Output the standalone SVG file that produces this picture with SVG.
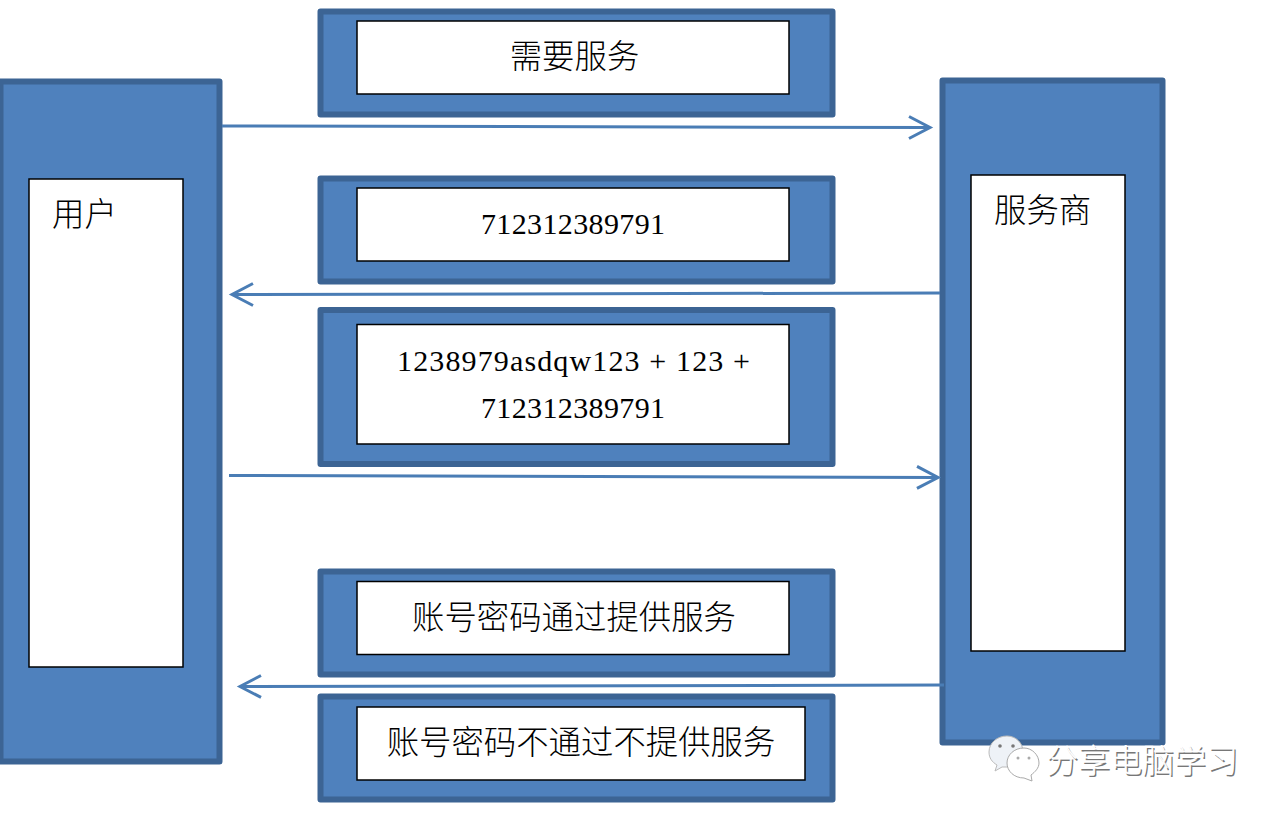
<svg xmlns="http://www.w3.org/2000/svg" width="1280" height="817" viewBox="0 0 1280 817">
<style>
.outer{fill:#4f81bd;stroke:#3c6494;stroke-width:6;stroke-linejoin:round}
.inner{fill:#fff;stroke:#000;stroke-width:1.5}
.cjk{font-family:"Noto Sans CJK SC","Noto Sans CJK JP",sans-serif;font-size:32.400px;font-weight:300;fill:#000}
.num{font-family:"Liberation Serif",serif;font-size:30px;fill:#000}
.conn{fill:none;stroke:#4a7db5;stroke-width:3}
.wm{font-family:"Noto Sans CJK SC",sans-serif;font-size:32px;font-weight:300}
</style>
<defs>
<marker id="open" markerUnits="userSpaceOnUse" markerWidth="28" markerHeight="30" refX="23" refY="15" orient="auto">
<path d="M2 4 L23 15 L2 26" fill="none" stroke="#4a7db5" stroke-width="3"/>
</marker>
</defs>
<g id="user"><rect class="outer" x="0.500" y="81.500" width="219" height="680"/><rect class="inner" x="29" y="179" width="154" height="488"/><text class="cjk" x="52" y="226">用户</text></g>
<g id="provider"><rect class="outer" x="942.500" y="80.500" width="220" height="662"/><rect class="inner" x="971" y="175" width="154" height="476"/><text class="cjk" x="994" y="222">服务商</text></g>
<g id="need"><rect class="outer" x="320.500" y="11.500" width="512" height="103"/><rect class="inner" x="357" y="21" width="432" height="73"/><text class="cjk" x="574.500" y="68" text-anchor="middle">需要服务</text></g>
<g id="challenge"><rect class="outer" x="320.500" y="178.500" width="512" height="103"/><rect class="inner" x="357" y="188" width="432" height="73"/><text class="num" x="573" y="234" text-anchor="middle" textLength="184">712312389791</text></g>
<g id="response"><rect class="outer" x="320.500" y="310" width="512" height="154"/><rect class="inner" x="357" y="324.500" width="432" height="119.500"/><text class="num" x="397" y="371" textLength="353" xml:space="preserve">1238979asdqw123 + 123 +</text><text class="num" x="573" y="418" text-anchor="middle" textLength="184">712312389791</text></g>
<g id="pass"><rect class="outer" x="320.500" y="571.500" width="512" height="103"/><rect class="inner" x="357" y="581.500" width="432" height="73"/><text class="cjk" x="574" y="629" text-anchor="middle">账号密码通过提供服务</text></g>
<g id="fail"><rect class="outer" x="320.500" y="696.500" width="512" height="103"/><rect class="inner" x="357" y="707" width="448" height="73"/><text class="cjk" x="581" y="754" text-anchor="middle">账号密码不通过不提供服务</text></g>
<g id="connectors">
<line class="conn" x1="222" y1="126" x2="930" y2="127.500" marker-end="url(#open)"/>
<line class="conn" x1="940" y1="293" x2="232" y2="294.500" marker-end="url(#open)"/>
<line class="conn" x1="229" y1="475.500" x2="938" y2="477.500" marker-end="url(#open)"/>
<line class="conn" x1="944" y1="685" x2="240" y2="686.500" marker-end="url(#open)"/>
</g>
<g id="watermark">
<path d="M1007 736c-10 0-18 7-18 16 0 6 3 10 8 13l-2 6 7-4h5c8 0 16-7 16-15 0-9-7-16-16-16z" fill="#eef2f7" stroke="#bbb" stroke-width="1"/>
<path d="M1024 748c-10 0-17 7-17 15s7 15 17 15l8 3-1-6c4-3 8-7 8-12 0-8-7-15-15-15z" fill="#fff" stroke="#aaa" stroke-width="1"/>
<circle cx="1000" cy="746" r="1.800" fill="#777"/><circle cx="1013" cy="746" r="1.800" fill="#777"/><circle cx="1018" cy="758" r="1.500" fill="#aaa"/><circle cx="1029" cy="758" r="1.500" fill="#aaa"/>
<text class="wm" x="1046" y="772" fill="#777" transform="translate(1.500 1.500)">分享电脑学习</text>
<text class="wm" x="1046" y="772" fill="#fff" stroke="#fff" stroke-width=".3">分享电脑学习</text>
</g>
</svg>
